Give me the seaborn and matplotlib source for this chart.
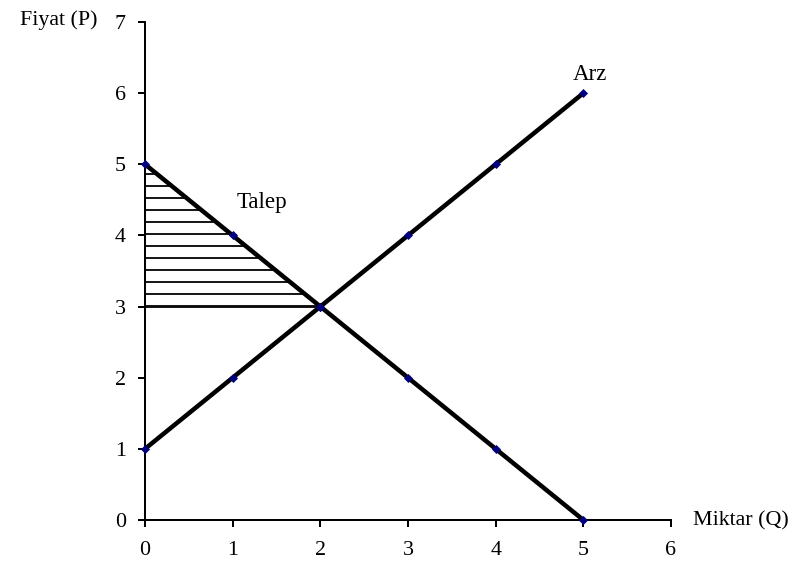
import matplotlib.pyplot as plt
import seaborn as sns
import pandas as pd
import numpy as np

# Arz - Talep grafiği (tüketici rantı taralı)
sns.set_theme(style="ticks")
plt.rcParams['font.family'] = ['Liberation Serif', 'DejaVu Serif']
plt.rcParams['hatch.linewidth'] = 1.8
plt.rcParams['text.color'] = 'black'
plt.rcParams['xtick.color'] = 'black'
plt.rcParams['ytick.color'] = 'black'

miktar = [0, 1, 2, 3, 4, 5]
talep_fiyat = [5, 4, 3, 2, 1, 0]
arz_fiyat = [1, 2, 3, 4, 5, 6]

# taralı alan: talep eğrisi ile denge fiyatı arası
rant_q = [0, 1, 2]
rant_p = [5, 4, 3]
denge_p = 3

df = pd.DataFrame({'Q': miktar, 'Talep': talep_fiyat, 'Arz': arz_fiyat})

fig = plt.figure(figsize=(800 / 72, 565 / 72), dpi=72)
ax = fig.add_axes([145 / 800, 1 - 520 / 565, 526 / 800, 498 / 565])

ax.fill_between(rant_q, rant_p, denge_p, facecolor='none', edgecolor='black',
                hatch='-', linewidth=0, clip_on=False)
ax.axhline(denge_p, xmin=0, xmax=2 / 6, color='black', lw=1.8)

for col in ['Talep', 'Arz']:
    sns.lineplot(data=df, x='Q', y=col, ax=ax, color='black', lw=4.5,
                 marker='D', markersize=6, markerfacecolor='#000080',
                 markeredgecolor='#000080', clip_on=False, zorder=3)

ax.set_xlim(0, 6)
ax.set_ylim(0, 7)
ax.set_xticks(range(0, 7))
ax.set_yticks(range(0, 8))
ax.set_xlabel('')
ax.set_ylabel('')
ax.tick_params(axis='both', labelsize=22, width=2, length=7, color='black')
ax.tick_params(axis='x', pad=14)
ax.tick_params(axis='y', pad=12)
for s in ['left', 'bottom']:
    ax.spines[s].set_linewidth(2)
    ax.spines[s].set_color('black')
sns.despine(ax=ax)

ax.text(4.88, 6.26, 'Arz', fontsize=23, ha='left', va='center')
ax.text(1.04, 4.46, 'Talep', fontsize=23, ha='left', va='center')
fig.text(98 / 800, 1 - 20 / 565, 'Fiyat (P)', fontsize=22, ha='right', va='center')
fig.text(693 / 800, 1 - 521 / 565, 'Miktar (Q)', fontsize=22, ha='left', va='center')

fig.savefig('out.png', dpi=72)
